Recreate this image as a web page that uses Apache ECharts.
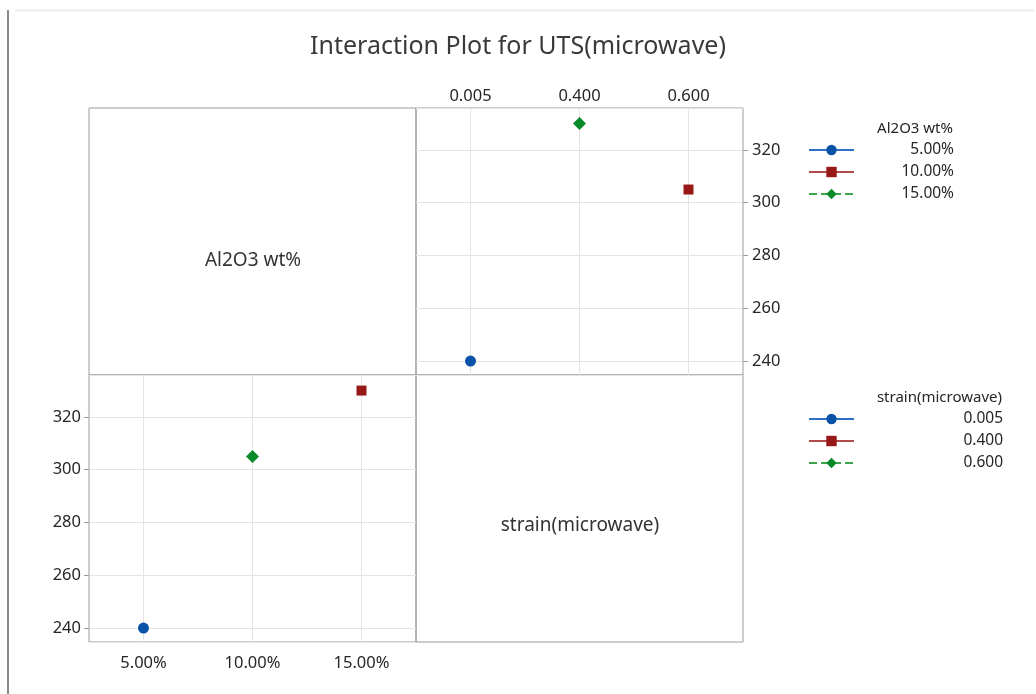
<!DOCTYPE html>
<html>
<head>
<meta charset="utf-8">
<script src="https://cdn.jsdelivr.net/npm/echarts@6/dist/echarts.min.js"></script>
<style>
  html, body { margin: 0; padding: 0; background: #fff; }
  #chart { width: 1036px; height: 694px; }
</style>
</head>
<body>
<div id="chart"></div>
<script>
// ---- data ----
const titleText = 'Interaction Plot for UTS(microwave)';
const aluminaName = 'Al2O3 wt%';
const strainName = 'strain(microwave)';
const strainLevels = ['0.005', '0.400', '0.600'];
const aluminaLevels = ['5.00%', '10.00%', '15.00%'];
// Top-right panel: x = strain level, one series per Al2O3 level (mean UTS)
const al5Means = [240, null, null];
const al10Means = [null, null, 305];
const al15Means = [null, 330, null];
// Bottom-left panel: x = Al2O3 level, one series per strain level (mean UTS)
const st005Means = [240, null, null];
const st400Means = [null, null, 330];
const st600Means = [null, 305, null];
const yMin = 234.7;
const yMax = 335.9;

// ---- styles ----
const FONT = '"Noto Sans", "Open Sans", sans-serif';
const levelColors = ['#0a52a8', '#981818', '#088a2a'];
const lineColors = ['#2f6fc4', '#b24a4a', '#3ea34f'];
const symbols = ['circle', 'rect', 'diamond'];
const symbolSizes = [11, 10, 13];
const lineTypes = ['solid', 'solid', 'dashed'];
const BORDER = '#9a9a9a';
const GRIDLINE = '#e4e4e4';
const LABEL = '#262626';

const chart = echarts.init(document.getElementById('chart'));

function mkSeries(name, data, i, xIdx, yIdx) {
  return {
    name: name, type: 'line', xAxisIndex: xIdx, yAxisIndex: yIdx,
    data: data, connectNulls: false, showSymbol: true,
    symbol: symbols[i], symbolSize: symbolSizes[i],
    itemStyle: { color: levelColors[i] },
    lineStyle: { color: lineColors[i], width: 1.3, type: lineTypes[i] },
    silent: true, animation: false
  };
}

const hiddenAxis = (gi, type) => ({ gridIndex: gi, type: type, show: false, min: 0, max: 1 });

const legendRich = (w) => ({
  a: { width: w, align: 'right', fontSize: 15.5, color: LABEL, fontFamily: FONT, lineHeight: 16 }
});

const tickLabel = (margin) => ({ fontFamily: FONT, fontSize: 16.5, color: LABEL, margin: margin });

const option = {
  backgroundColor: '#fff',
  animation: false,
  title: [
    { text: titleText, left: 'center', top: 34, padding: 0,
      textStyle: { fontFamily: FONT, fontSize: 25, fontWeight: 'normal', color: '#3a3a3a' } },
    { text: aluminaName, right: 83, top: 121, padding: 0,
      textStyle: { fontFamily: FONT, fontSize: 15, fontWeight: 'normal', color: LABEL } },
    { text: strainName, right: 34, top: 390, padding: 0,
      textStyle: { fontFamily: FONT, fontSize: 15, fontWeight: 'normal', color: LABEL } }
  ],
  legend: [
    { data: aluminaLevels, orient: 'vertical', left: 808, top: 142, padding: 0,
      itemWidth: 45, itemHeight: 13, itemGap: 6, selectedMode: false,
      formatter: '{a|{name}}', textStyle: { rich: legendRich(95) } },
    { data: strainLevels, orient: 'vertical', left: 808, top: 411, padding: 0,
      itemWidth: 45, itemHeight: 13, itemGap: 6, selectedMode: false,
      formatter: '{a|{name}}', textStyle: { rich: legendRich(144) } }
  ],
  grid: [
    { left: 89, top: 108, width: 327, height: 267, show: true, borderColor: BORDER, borderWidth: 1 },
    { left: 416, top: 108, width: 327, height: 267, show: true, borderColor: BORDER, borderWidth: 1 },
    { left: 89, top: 375, width: 327, height: 267, show: true, borderColor: BORDER, borderWidth: 1 },
    { left: 416, top: 375, width: 327, height: 267, show: true, borderColor: BORDER, borderWidth: 1 }
  ],
  xAxis: [
    hiddenAxis(0, 'value'),
    { gridIndex: 1, type: 'category', data: strainLevels, position: 'top', boundaryGap: true,
      axisLine: { show: false }, axisTick: { show: false },
      axisLabel: tickLabel(3),
      splitLine: { show: true, alignWithLabel: true, lineStyle: { color: GRIDLINE, width: 1 } } },
    { gridIndex: 2, type: 'category', data: aluminaLevels, position: 'bottom', boundaryGap: true,
      axisLine: { show: false }, axisTick: { show: false },
      axisLabel: tickLabel(13),
      splitLine: { show: true, alignWithLabel: true, lineStyle: { color: GRIDLINE, width: 1 } } },
    hiddenAxis(3, 'value')
  ],
  yAxis: [
    hiddenAxis(0, 'value'),
    { gridIndex: 1, type: 'value', position: 'right', min: yMin, max: yMax, splitNumber: 5,
      axisLine: { show: false },
      axisTick: { show: true, length: 5, lineStyle: { color: BORDER } },
      axisLabel: Object.assign(tickLabel(9), { showMinLabel: false, showMaxLabel: false }),
      splitLine: { show: true, lineStyle: { color: GRIDLINE, width: 1 } } },
    { gridIndex: 2, type: 'value', position: 'left', min: yMin, max: yMax, splitNumber: 5,
      axisLine: { show: false },
      axisTick: { show: true, length: 5, lineStyle: { color: BORDER } },
      axisLabel: Object.assign(tickLabel(8), { showMinLabel: false, showMaxLabel: false }),
      splitLine: { show: true, lineStyle: { color: GRIDLINE, width: 1 } } },
    hiddenAxis(3, 'value')
  ],
  series: [
    mkSeries(aluminaLevels[0], al5Means, 0, 1, 1),
    mkSeries(aluminaLevels[1], al10Means, 1, 1, 1),
    mkSeries(aluminaLevels[2], al15Means, 2, 1, 1),
    mkSeries(strainLevels[0], st005Means, 0, 2, 2),
    mkSeries(strainLevels[1], st400Means, 1, 2, 2),
    mkSeries(strainLevels[2], st600Means, 2, 2, 2)
  ],
  graphic: [
    { type: 'text', x: 253, y: 261, silent: true,
      style: { text: aluminaName, fontFamily: FONT, fontSize: 19, fill: '#333', align: 'center', verticalAlign: 'middle' } },
    { type: 'text', x: 580, y: 526, silent: true,
      style: { text: strainName, fontFamily: FONT, fontSize: 19, fill: '#333', align: 'center', verticalAlign: 'middle' } },
    { type: 'line', silent: true, shape: { x1: 8, y1: 10, x2: 8, y2: 694 },
      style: { stroke: '#8a8a8a', lineWidth: 2 } },
    { type: 'line', silent: true, shape: { x1: 15, y1: 10.5, x2: 1034, y2: 10.5 },
      style: { stroke: '#ececec', lineWidth: 2 } }
  ]
};

chart.setOption(option);
</script>
</body>
</html>
